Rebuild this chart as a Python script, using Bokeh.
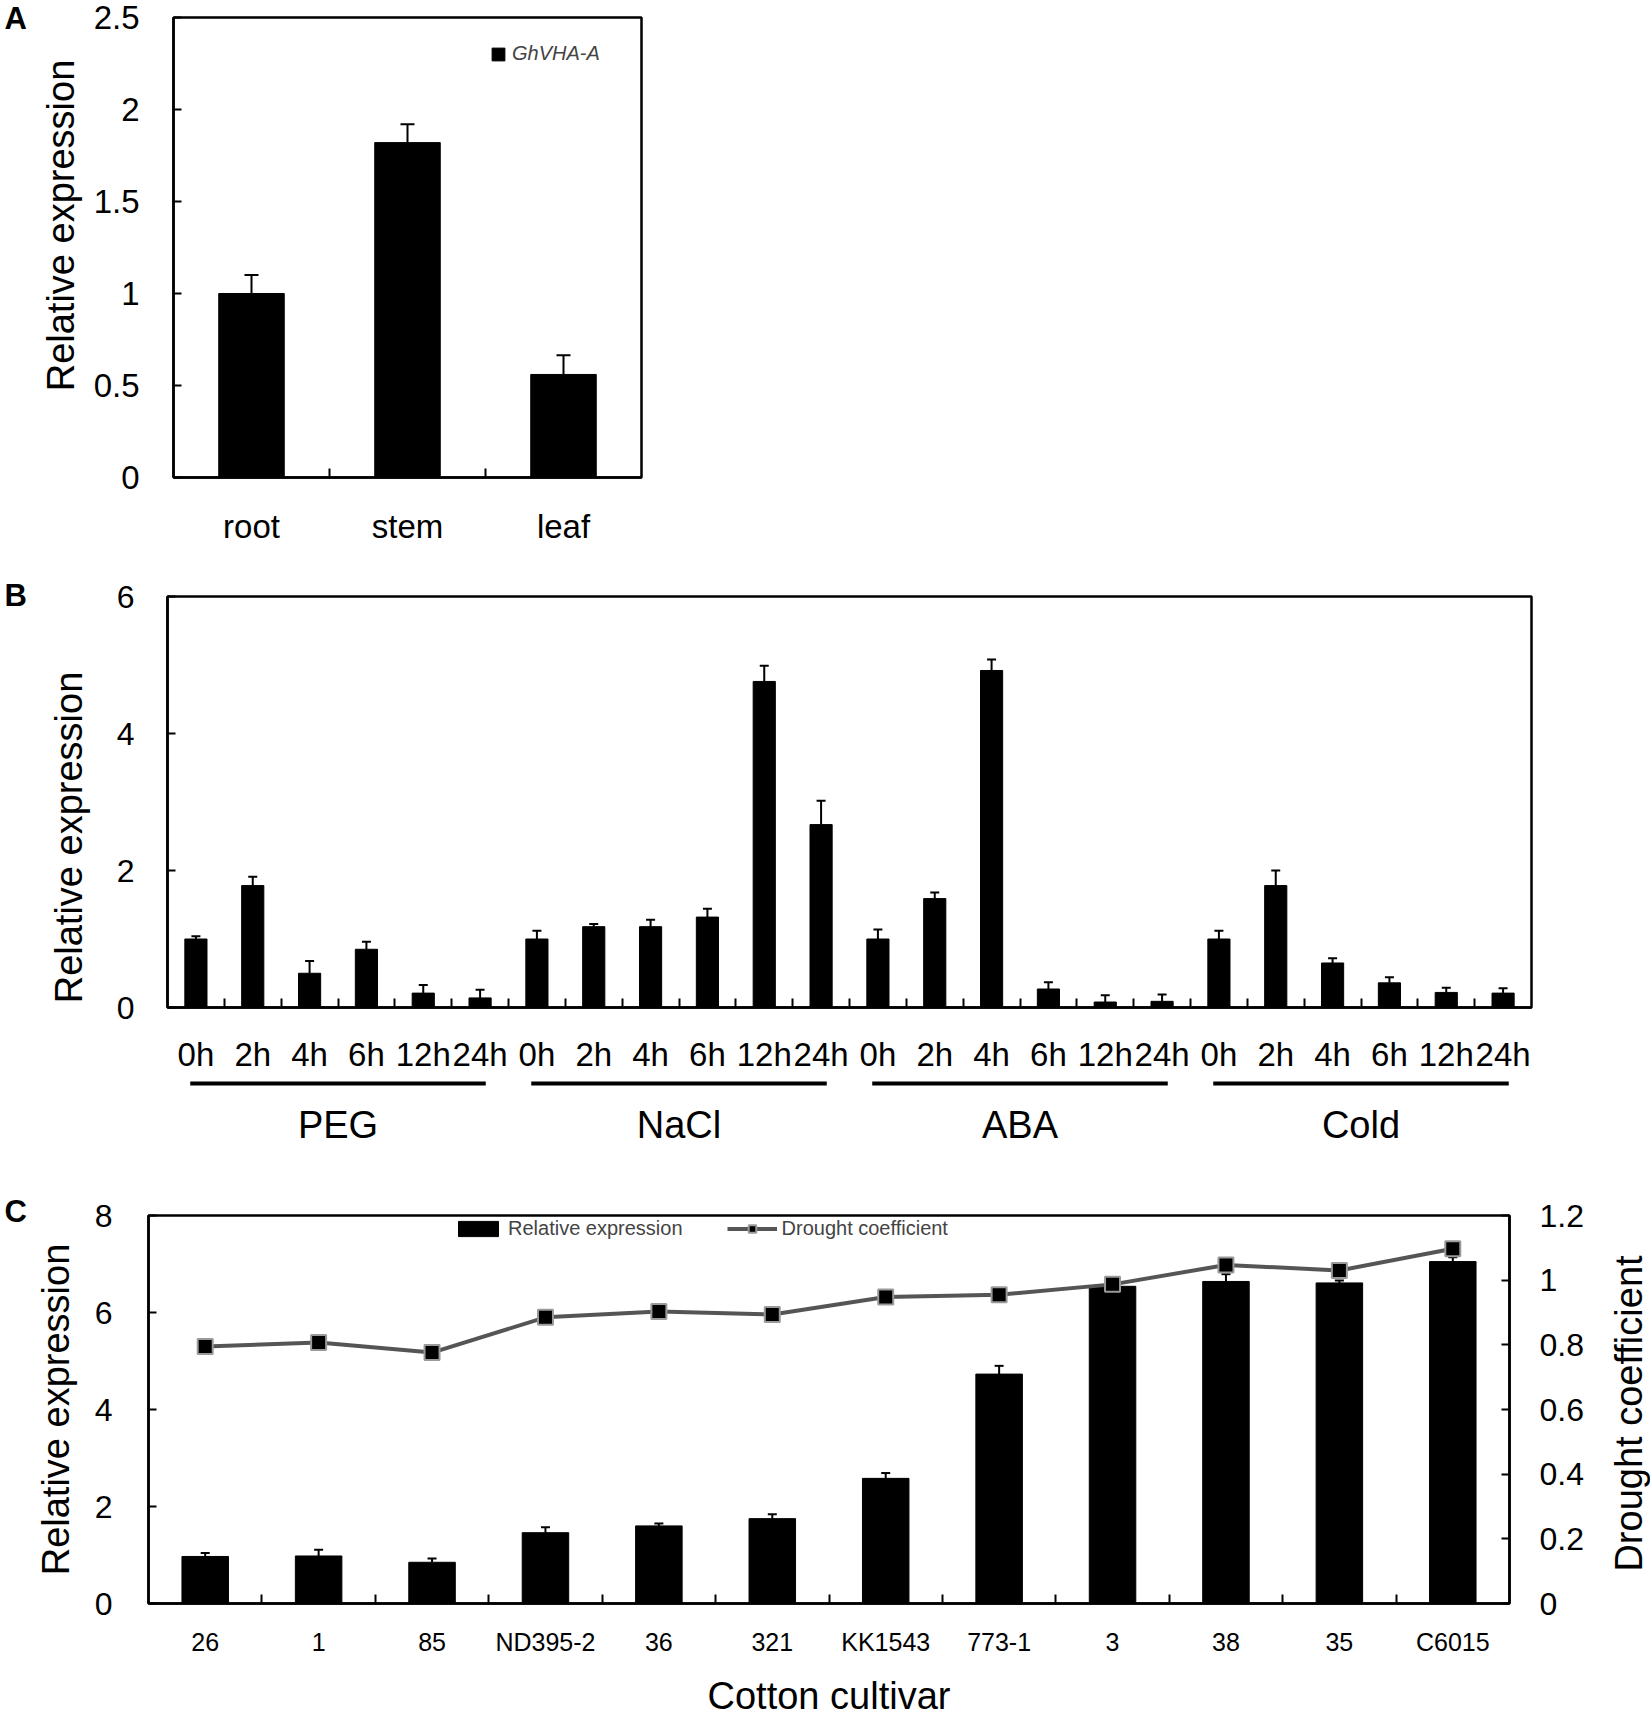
import math
from bokeh.plotting import figure
from bokeh.models import (Range1d, LinearAxis, FixedTicker, CustomJSTickFormatter, Whisker,
                          TeeHead, ColumnDataSource, Legend, LegendItem)
from bokeh.layouts import column, row
from bokeh.embed import file_html
from bokeh.resources import INLINE
from bokeh.core.properties import value

FONT = "Liberation Sans"

# ---------------- data ----------------
tissues = ["root", "stem", "leaf"]
tissue_expr = [1.00, 1.82, 0.56]
tissue_sd = [0.10, 0.10, 0.105]

time_points = ["0h", "2h", "4h", "6h", "12h", "24h"]
treatments = ["PEG", "NaCl", "ABA", "Cold"]
peg_expr = [1.00, 1.78, 0.50, 0.85, 0.21, 0.14]
peg_sd = [0.04, 0.13, 0.18, 0.11, 0.12, 0.12]
nacl_expr = [1.00, 1.18, 1.18, 1.32, 4.76, 2.67]
nacl_sd = [0.12, 0.04, 0.10, 0.12, 0.23, 0.35]
aba_expr = [1.00, 1.59, 4.92, 0.27, 0.08, 0.09]
aba_sd = [0.14, 0.09, 0.16, 0.10, 0.10, 0.10]
cold_expr = [1.00, 1.78, 0.65, 0.36, 0.22, 0.21]
cold_sd = [0.12, 0.22, 0.07, 0.08, 0.07, 0.07]

cultivars = ["26", "1", "85", "ND395-2", "36", "321", "KK1543", "773-1", "3", "38", "35", "C6015"]
cultivar_expr = [0.97, 0.98, 0.85, 1.46, 1.60, 1.75, 2.58, 4.73, 6.54, 6.64, 6.61, 7.05]
cultivar_sd = [0.07, 0.13, 0.08, 0.11, 0.05, 0.09, 0.11, 0.17, 0.08, 0.15, 0.05, 0.09]
drought_coef = [0.795, 0.807, 0.776, 0.885, 0.903, 0.894, 0.948, 0.955, 0.987, 1.047, 1.030, 1.097]

a_yticks = [0, 0.5, 1, 1.5, 2, 2.5]
b_yticks = [0, 2, 4, 6]
c_yticks = [0, 2, 4, 6, 8]
c_rticks = [0, 0.2, 0.4, 0.6, 0.8, 1.0, 1.2]

num_fmt = CustomJSTickFormatter(code="return String(Math.round(tick*10)/10);")

LETTER_W = 30
LEFT_A = 85
LEFT_B = 95
RLAB_W = 50


def base_fig(w, h, xr, yr, bl, br, bt, bb):
    p = figure(width=w, height=h, x_range=xr, y_range=yr, output_backend="svg",
               toolbar_location=None, min_border_left=bl, min_border_right=br,
               min_border_top=bt, min_border_bottom=bb, frame_align=False)
    p.xgrid.grid_line_color = None
    p.ygrid.grid_line_color = None
    p.outline_line_color = "black"
    p.outline_line_width = 2.5
    p.outline_line_alpha = 1
    p.background_fill_color = "white"
    p.border_fill_color = "white"
    return p


def text_fig(w, h):
    f = figure(width=w, height=h, x_range=Range1d(0, w), y_range=Range1d(h, 0),
               output_backend="svg", toolbar_location=None, min_border=0, frame_align=False)
    f.axis.visible = False
    f.grid.grid_line_color = None
    f.outline_line_color = None
    return f


def add_text(f, text, x, y, size, bold=False, angle=0.0, align="left"):
    f.text(x=[x], y=[y], text=[text], text_font=value(FONT), text_font_size=size,
           text_font_style="bold" if bold else "normal", angle=angle,
           text_baseline="middle", text_align=align, text_color="black")


def style_y(ax, size, standoff):
    ax.axis_line_color = "black"
    ax.axis_line_width = 2.5
    ax.major_tick_in = 8
    ax.major_tick_out = 0
    ax.major_tick_line_width = 2
    ax.minor_tick_line_color = None
    ax.major_label_text_font = FONT
    ax.major_label_text_font_size = size
    ax.major_label_text_color = "black"
    ax.major_label_standoff = standoff
    ax.formatter = num_fmt


def set_axis_label(ax, label, standoff):
    ax.axis_label = label
    ax.axis_label_text_font = FONT
    ax.axis_label_text_font_size = "38px"
    ax.axis_label_text_font_style = "normal"
    ax.axis_label_text_color = "black"
    ax.axis_label_standoff = standoff


def style_x(ax, names, size, standoff):
    n = len(names)
    ax.ticker = FixedTicker(ticks=list(range(n)), minor_ticks=[i + 0.5 for i in range(n - 1)])
    ax.formatter = CustomJSTickFormatter(args=dict(labels=names),
                                         code="const i = Math.round(tick); return (i >= 0 && i < labels.length) ? labels[i] : '';")
    ax.axis_line_color = "black"
    ax.axis_line_width = 2.5
    ax.major_tick_in = 0
    ax.major_tick_out = 0
    ax.minor_tick_in = 9
    ax.minor_tick_out = 0
    ax.minor_tick_line_color = "black"
    ax.minor_tick_line_width = 2
    ax.major_label_text_font = FONT
    ax.major_label_text_font_size = size
    ax.major_label_text_color = "black"
    ax.major_label_standoff = standoff


# ---------------- panel A ----------------
HA = 560
xa = list(range(len(tissues)))
WA = 700 - LEFT_A
pA = base_fig(WA, HA, Range1d(-0.5, len(tissues) - 0.5), Range1d(0, 2.5),
              173 - LEFT_A, 700 - 641, 17, HA - 477)
srcA = ColumnDataSource(dict(x=xa, top=tissue_expr,
                             upper=[v + e for v, e in zip(tissue_expr, tissue_sd)]))
rA = pA.vbar(x="x", top="top", width=0.42, bottom=0, source=srcA, fill_color="black", line_color="black")
pA.add_layout(Whisker(source=srcA, base="x", lower="top", upper="upper", dimension="height",
                      line_width=2, line_color="black", lower_head=None,
                      upper_head=TeeHead(size=14, line_width=2, line_color="black")))
style_y(pA.yaxis[0], "33px", 34)
pA.yaxis[0].ticker = FixedTicker(ticks=a_yticks)
style_x(pA.xaxis[0], tissues, "33px", 30)
legA = Legend(items=[LegendItem(label="GhVHA-A", renderers=[rA])], location=(317, 412),
              padding=0, margin=0, glyph_width=16, glyph_height=16, label_standoff=6,
              label_text_font=FONT, label_text_font_size="20px", label_text_font_style="italic",
              border_line_color=None, background_fill_alpha=0)
pA.add_layout(legA)
leftA = text_fig(LEFT_A, HA)
add_text(leftA, "A", 4, 18, "31px", bold=True)
add_text(leftA, "Relative expression", 60, 225, "38px", angle=math.pi / 2, align="center")
rowA = row(leftA, pA, spacing=0)

# ---------------- panel B ----------------
HB = 515
TOPB = 560
b_labels = time_points * len(treatments)
b_expr = peg_expr + nacl_expr + aba_expr + cold_expr
b_sd = peg_sd + nacl_sd + aba_sd + cold_sd
xb = list(range(len(b_labels)))
xrB = Range1d(-0.5, len(b_labels) - 0.5)
pB = base_fig(1650 - LEFT_B, HB, xrB, Range1d(0, 6), 167 - LEFT_B, 1650 - 1531,
              596 - TOPB, HB - (1009 - TOPB))
srcB = ColumnDataSource(dict(x=xb, top=b_expr, upper=[v + e for v, e in zip(b_expr, b_sd)]))
pB.vbar(x="x", top="top", width=0.39, bottom=0, source=srcB, fill_color="black", line_color="black")
pB.add_layout(Whisker(source=srcB, base="x", lower="top", upper="upper", dimension="height",
                      line_width=2, line_color="black", lower_head=None,
                      upper_head=TeeHead(size=9, line_width=2, line_color="black")))
style_y(pB.yaxis[0], "32px", 33)
pB.yaxis[0].ticker = FixedTicker(ticks=b_yticks)
style_x(pB.xaxis[0], b_labels, "33px", 28)
leftB = text_fig(LEFT_B, HB)
add_text(leftB, "B", 4, 595 - TOPB, "31px", bold=True)
add_text(leftB, "Relative expression", 68, 837 - TOPB, "38px", angle=math.pi / 2, align="center")
rowB = row(leftB, pB, spacing=0)

# group underline + labels for panel B
HG = 75
nt = len(time_points)
pBg = figure(width=1650, height=HG, x_range=xrB, y_range=Range1d(HG, 0), output_backend="svg",
             toolbar_location=None, min_border_left=167, min_border_right=1650 - 1531,
             min_border_top=0, min_border_bottom=0, frame_align=False)
pBg.axis.visible = False
pBg.grid.grid_line_color = None
pBg.outline_line_color = None
g_start = [g * nt - 0.1 for g in range(len(treatments))]
g_end = [g * nt + nt - 1 + 0.1 for g in range(len(treatments))]
g_mid = [(s + e) / 2 for s, e in zip(g_start, g_end)]
pBg.segment(x0=g_start, x1=g_end, y0=[8] * len(treatments), y1=[8] * len(treatments),
            line_color="black", line_width=4)
pBg.text(x=g_mid, y=[49] * len(treatments), text=treatments, text_font=value(FONT),
         text_font_size="38px", text_align="center", text_baseline="middle", text_color="black")

# ---------------- panel C ----------------
TOPC = TOPB + HB + HG
HC = 1719 - TOPC
WC = 1650 - LETTER_W - RLAB_W
xc = list(range(len(cultivars)))
pC = base_fig(WC, HC, Range1d(-0.5, len(cultivars) - 0.5), Range1d(0, 8),
              148 - LETTER_W, (1650 - RLAB_W) - 1509, 1215 - TOPC, HC - (1606 - TOPC))
pC.extra_y_ranges = {"dc": Range1d(0, 1.2)}
srcC = ColumnDataSource(dict(x=xc, top=cultivar_expr,
                             upper=[v + e for v, e in zip(cultivar_expr, cultivar_sd)], dc=drought_coef))
rC = pC.vbar(x="x", top="top", width=0.41, bottom=0, source=srcC, fill_color="black", line_color="black")
pC.add_layout(Whisker(source=srcC, base="x", lower="top", upper="upper", dimension="height",
                      line_width=2, line_color="black", lower_head=None,
                      upper_head=TeeHead(size=9, line_width=2, line_color="black")))
rL = pC.line(x="x", y="dc", source=srcC, y_range_name="dc", line_color="#555555", line_width=4)
rS = pC.scatter(x="x", y="dc", source=srcC, y_range_name="dc", marker="square", size=15,
                fill_color="black", line_color="#9a9a9a", line_width=2)
style_y(pC.yaxis[0], "32px", 36)
set_axis_label(pC.yaxis[0], "Relative expression", 15)
pC.yaxis[0].ticker = FixedTicker(ticks=c_yticks)
rax = LinearAxis(y_range_name="dc")
style_y(rax, "32px", 30)
rax.ticker = FixedTicker(ticks=c_rticks)
pC.add_layout(rax, "right")
style_x(pC.xaxis[0], cultivars, "25px", 24)
set_axis_label(pC.xaxis[0], "Cotton cultivar", 16)
legC = Legend(items=[LegendItem(label="Relative expression", renderers=[rC]),
                     LegendItem(label="Drought coefficient", renderers=[rL, rS])],
              location=(305, 363), orientation="horizontal", padding=0, margin=0,
              glyph_width=50, glyph_height=19, label_standoff=5, spacing=44,
              label_text_font=FONT, label_text_font_size="20px",
              border_line_color=None, background_fill_alpha=0)
pC.add_layout(legC)
rightC = text_fig(RLAB_W, HC)
add_text(rightC, "Drought coefficient", 1628 - (1650 - RLAB_W), 1413 - TOPC, "38px",
         angle=math.pi / 2, align="center")
leftC = text_fig(LETTER_W, HC)
add_text(leftC, "C", 4, 1211 - TOPC, "31px", bold=True)
rowC = row(leftC, pC, rightC, spacing=0)

layout = column(rowA, rowB, pBg, rowC, spacing=0)
open("out.html", "w").write(file_html(layout, INLINE))
